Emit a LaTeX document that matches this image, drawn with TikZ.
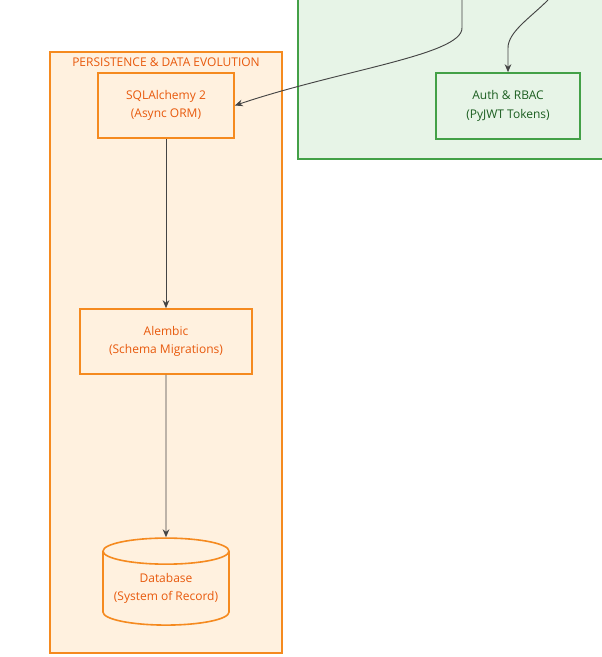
\documentclass[tikz,border=0pt]{standalone}
\usepackage{fontspec}
\setmainfont{Open Sans}
\usetikzlibrary{shapes.geometric,arrows.meta}
\definecolor{orgline}{HTML}{F58A1F}
\definecolor{orgfill}{HTML}{FFF1DF}
\definecolor{orgtext}{HTML}{E8590C}
\definecolor{grnline}{HTML}{43A047}
\definecolor{grnfill}{HTML}{E7F4E7}
\definecolor{grntext}{HTML}{1B5E20}
\definecolor{edge}{HTML}{444444}
\tikzset{
  px/.style={x=0.75pt,y=-0.75pt},
  group/.style={draw=#1line,fill=#1fill,line width=1.2pt},
  box/.style={draw=#1line,fill=#1fill,line width=1.2pt,align=center,text=#1text,
    font=\fontsize{9}{14}\selectfont,inner sep=0pt},
  link/.style={draw=edge,line width=0.7pt,-{Stealth[length=6pt,width=5pt]}}
}
\begin{document}
\begin{tikzpicture}[px]
\useasboundingbox (0,0) rectangle (602,657);

% groups
\draw[group=grn] (298,-5) rectangle (607,159);
\draw[group=org] (50,52) rectangle (282,653);
\node[text=orgtext,font=\fontsize{9}{11}\selectfont] (persist) at (166,62) {PERSISTENCE \& DATA EVOLUTION};

% nodes
\node[box=org,minimum width=136*0.75pt,minimum height=65*0.75pt] (orm) at (166,105.5) {SQLAlchemy 2\\(Async ORM)};
\node[box=org,minimum width=172*0.75pt,minimum height=65*0.75pt] (alembic) at (166,341.5) {Alembic\\(Schema Migrations)};
\node[box=org,cylinder,shape border rotate=90,aspect=0.25,minimum width=126*0.75pt,
  minimum height=87*0.75pt] (db) at (166,588.5) {Database\\(System of Record)};
\node[box=grn,minimum width=144*0.75pt,minimum height=66*0.75pt] (auth) at (508,106) {Auth \& RBAC\\(PyJWT Tokens)};

\coordinate (src1) at (462,0);
\coordinate (src2) at (548,0);

% edges
\draw[link] (src1) -- (462,28) .. controls (462,55) and (340,70) .. (orm.east);
\draw[link] (src2) .. controls (530,18) and (508,32) .. (508,48) -- (auth.north);
\draw[link] (orm) -- (alembic);
\draw[link] (alembic) -- (db);
\end{tikzpicture}
\end{document}
